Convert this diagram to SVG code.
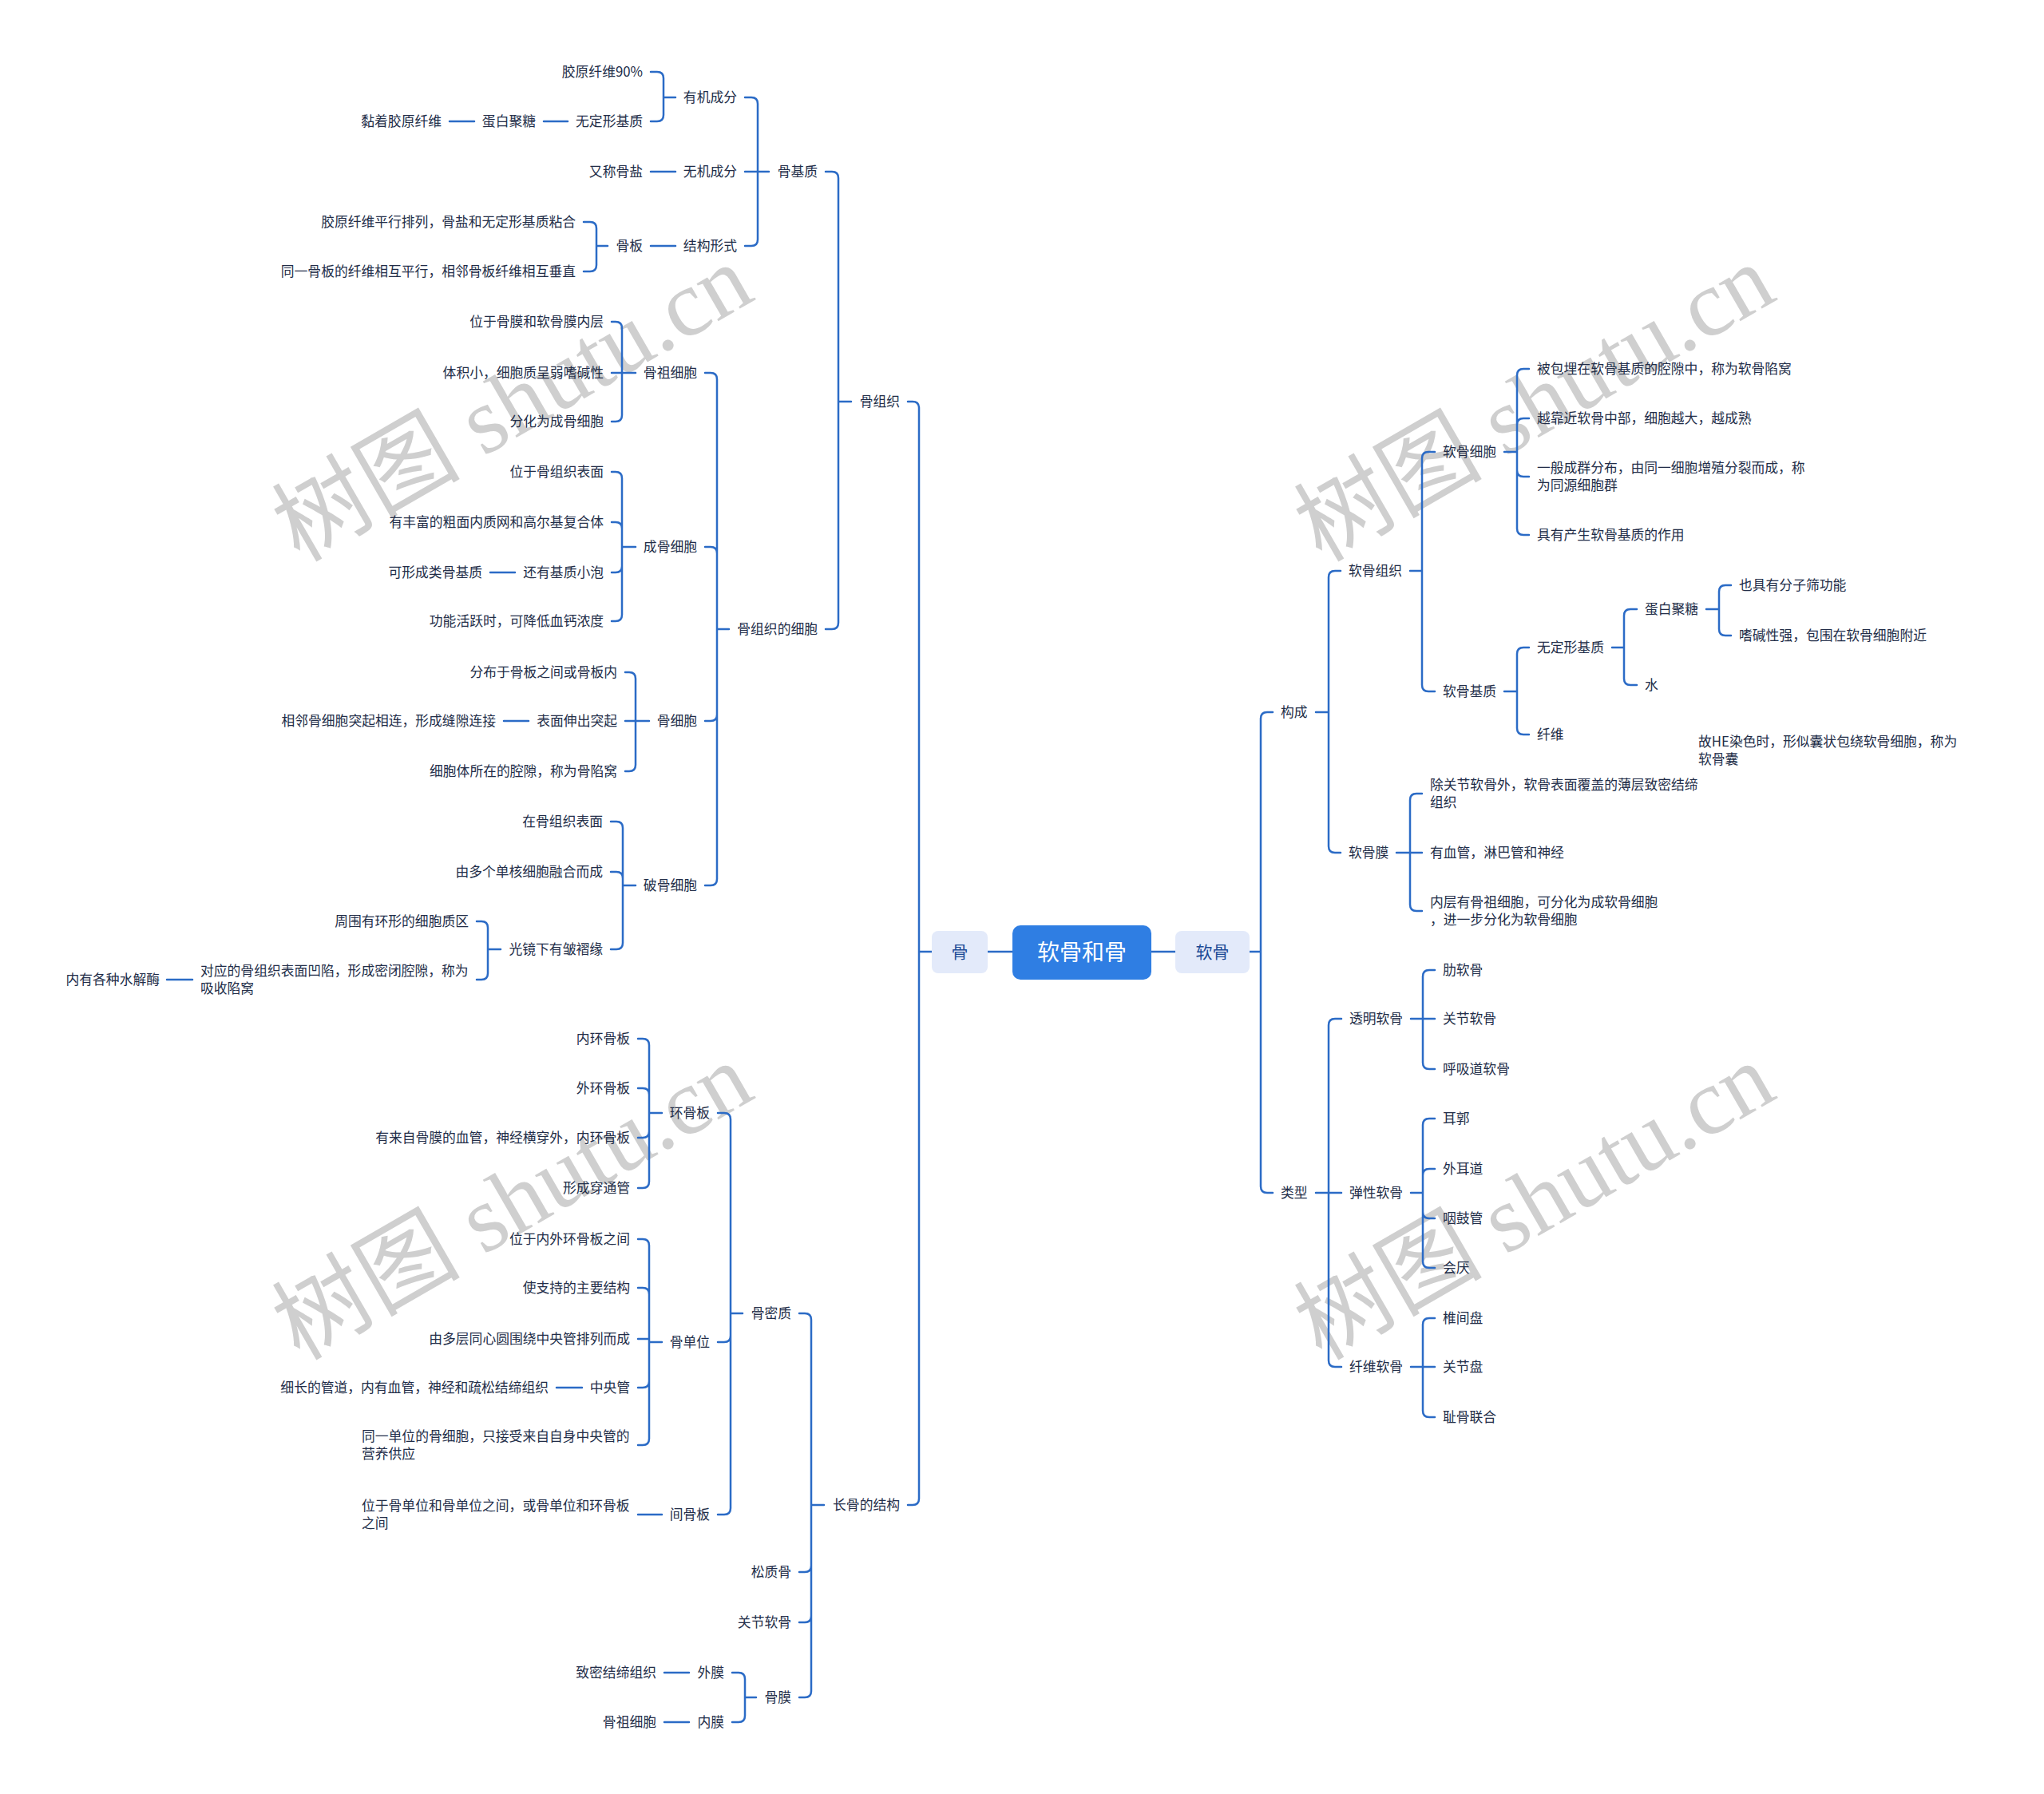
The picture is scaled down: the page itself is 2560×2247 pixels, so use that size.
<svg xmlns="http://www.w3.org/2000/svg" width="2560" height="2247" viewBox="0 0 2560 2247">
<style>
.t{font-family:"Noto Sans CJK SC","Noto Sans",sans-serif;font-size:16.8px;fill:#222d48}
.e{text-anchor:end}
.c{fill:none;stroke:#2b6bc6;stroke-width:2.5;stroke-linecap:round;stroke-linejoin:round}
.wm{font-family:"Liberation Serif","Noto Sans CJK SC",serif;font-size:118px;fill:#cfcfcf}
</style>
<rect width="2560" height="2247" fill="#ffffff"/>
<g id="watermarks">
<text class="wm" x="375" y="705" transform="rotate(-30 375 705)">树图 shutu.cn</text>
<text class="wm" x="1655" y="705" transform="rotate(-30 1655 705)">树图 shutu.cn</text>
<text class="wm" x="375" y="1705" transform="rotate(-30 375 1705)">树图 shutu.cn</text>
<text class="wm" x="1655" y="1705" transform="rotate(-30 1655 1705)">树图 shutu.cn</text>
</g>
<g id="connectors" class="c">
<path d="M1237 1192H1268M1442 1192H1472"/>
<path d="M1167 1192H1151M1151 1192V511Q1151 503 1143 503H1137M1151 1192V1877Q1151 1885 1143 1885H1137"/>
<path d="M1066 503H1050M1050 503V223Q1050 215 1042 215H1034M1050 503V780Q1050 788 1042 788H1034"/>
<path d="M963 215H949M949 215V130Q949 122 941 122H933M949 215H933M949 215V300Q949 308 941 308H933"/>
<path d="M846 122H831M831 122V98Q831 90 823 90H815M831 122V144Q831 152 823 152H815"/>
<path d="M711 152H681M594 152H563M846 215H815M846 308H815"/>
<path d="M761 308H747M747 308V286Q747 278 739 278H731M747 308V332Q747 340 739 340H731"/>
<path d="M913 788H898M898 788V475Q898 467 890 467H883M898 788V693Q898 685 890 685H883M898 788V895Q898 903 890 903H883M898 788V1101Q898 1109 890 1109H883"/>
<path d="M796 467H779M779 467V411Q779 403 771 403H766M779 467H766M779 467V520Q779 528 771 528H766"/>
<path d="M796 685H779M779 685V599Q779 591 771 591H766M779 685V662Q779 654 771 654H766M779 685V709Q779 717 771 717H766M779 685V770Q779 778 771 778H766M645 717H614"/>
<path d="M813 903H796M796 903V850Q796 842 788 842H783M796 903H783M796 903V958Q796 966 788 966H783M662 903H631"/>
<path d="M796 1109H780M780 1109V1037Q780 1029 772 1029H765M780 1109V1100Q780 1092 772 1092H765M780 1109V1181Q780 1189 772 1189H765"/>
<path d="M627 1189H611M611 1189V1162Q611 1154 603 1154H597M611 1189V1219Q611 1227 603 1227H597M241 1227H209"/>
<path d="M1032 1885H1016M1016 1885V1653Q1016 1645 1008 1645H1001M1016 1885V1961Q1016 1969 1008 1969H1001M1016 1885V2024Q1016 2032 1008 2032H1001M1016 1885V2118Q1016 2126 1008 2126H1001"/>
<path d="M930 1645H915M915 1645V1402Q915 1394 907 1394H899M915 1645V1673Q915 1681 907 1681H899M915 1645V1889Q915 1897 907 1897H899"/>
<path d="M829 1394H813M813 1394V1309Q813 1301 805 1301H799M813 1394V1371Q813 1363 805 1363H799M813 1394V1417Q813 1425 805 1425H799M813 1394V1480Q813 1488 805 1488H799"/>
<path d="M829 1681H813M813 1681V1560Q813 1552 805 1552H799M813 1681V1621Q813 1613 805 1613H799M813 1677H799M813 1681V1730Q813 1738 805 1738H799M813 1681V1802Q813 1810 805 1810H799M729 1738H697M829 1897H799"/>
<path d="M947 2126H933M933 2126V2103Q933 2095 925 2095H917M933 2126V2149Q933 2157 925 2157H917M863 2095H832M863 2157H832"/>
<path d="M1565 1192H1579M1579 1192V900Q1579 892 1587 892H1594M1579 1192V1486Q1579 1494 1587 1494H1594"/>
<path d="M1648 892H1664M1664 892V723Q1664 715 1672 715H1679M1664 892V1060Q1664 1068 1672 1068H1679"/>
<path d="M1766 715H1781M1781 715V574Q1781 566 1789 566H1797M1781 715V858Q1781 866 1789 866H1797"/>
<path d="M1884 566H1900M1900 566V470Q1900 462 1908 462H1915M1900 566V532Q1900 524 1908 524H1915M1900 566V589Q1900 597 1908 597H1915M1900 566V662Q1900 670 1908 670H1915"/>
<path d="M1884 866H1900M1900 866V819Q1900 811 1908 811H1915M1900 866V912Q1900 920 1908 920H1915"/>
<path d="M2019 811H2034M2034 811V771Q2034 763 2042 763H2050M2034 811V850Q2034 858 2042 858H2050"/>
<path d="M2137 763H2153M2153 763V741Q2153 733 2161 733H2168M2153 763V788Q2153 796 2161 796H2168"/>
<path d="M1749 1068H1766M1766 1068V1002Q1766 994 1774 994H1781M1766 1068H1781M1766 1068V1133Q1766 1141 1774 1141H1781"/>
<path d="M1648 1494H1664M1664 1494V1284Q1664 1276 1672 1276H1680M1664 1494H1680M1664 1494V1704Q1664 1712 1672 1712H1680"/>
<path d="M1767 1276H1782M1782 1276V1223Q1782 1215 1790 1215H1797M1782 1276H1797M1782 1276V1331Q1782 1339 1790 1339H1797"/>
<path d="M1767 1494H1782M1782 1494V1409Q1782 1401 1790 1401H1797M1782 1494V1472Q1782 1464 1790 1464H1797M1782 1494V1518Q1782 1526 1790 1526H1797M1782 1494V1580Q1782 1588 1790 1588H1797"/>
<path d="M1767 1712H1782M1782 1712V1659Q1782 1651 1790 1651H1797M1782 1712H1797M1782 1712V1767Q1782 1775 1790 1775H1797"/>
</g>
<g id="root">
<rect x="1268" y="1159" width="174" height="68" rx="10" fill="#2f7ee3"/>
<text x="1355" y="1203" text-anchor="middle" font-family="Noto Sans CJK SC, sans-serif" font-size="28" fill="#ffffff">软骨和骨</text>
</g>
<g id="n-gu">
<rect x="1167" y="1166" width="70" height="53" rx="8" fill="#e3eafa"/>
<text x="1202" y="1200" text-anchor="middle" font-family="Noto Sans CJK SC, sans-serif" font-size="21" fill="#1c4a96">骨</text>
</g>
<g id="n-ruangu">
<rect x="1472" y="1166" width="93" height="53" rx="8" fill="#e3eafa"/>
<text x="1518.5" y="1200" text-anchor="middle" font-family="Noto Sans CJK SC, sans-serif" font-size="21" fill="#1c4a96">软骨</text>
</g>
<g id="left-nodes" class="t">
<g id="l1"><text class="t e" x="1127" y="509">骨组织</text></g>
<g id="l2"><text class="t e" x="1127" y="1891">长骨的结构</text></g>
<g id="l3"><text class="t e" x="1024" y="221">骨基质</text></g>
<g id="l4"><text class="t e" x="1024" y="794">骨组织的细胞</text></g>
<g id="l5"><text class="t e" x="923" y="128">有机成分</text></g>
<g id="l6"><text class="t e" x="923" y="221">无机成分</text></g>
<g id="l7"><text class="t e" x="923" y="314">结构形式</text></g>
<g id="l8"><text class="t e" x="805" y="96">胶原纤维90%</text></g>
<g id="l9"><text class="t e" x="805" y="158">无定形基质</text></g>
<g id="l10"><text class="t e" x="671" y="158">蛋白聚糖</text></g>
<g id="l11"><text class="t e" x="553" y="158">黏着胶原纤维</text></g>
<g id="l12"><text class="t e" x="805" y="221">又称骨盐</text></g>
<g id="l13"><text class="t e" x="805" y="314">骨板</text></g>
<g id="l14"><text class="t e" x="721" y="284">胶原纤维平行排列，骨盐和无定形基质粘合</text></g>
<g id="l15"><text class="t e" x="721" y="346">同一骨板的纤维相互平行，相邻骨板纤维相互垂直</text></g>
<g id="l16"><text class="t e" x="873" y="473">骨祖细胞</text></g>
<g id="l17"><text class="t e" x="873" y="691">成骨细胞</text></g>
<g id="l18"><text class="t e" x="873" y="909">骨细胞</text></g>
<g id="l19"><text class="t e" x="873" y="1115">破骨细胞</text></g>
<g id="l20"><text class="t e" x="756" y="409">位于骨膜和软骨膜内层</text></g>
<g id="l21"><text class="t e" x="756" y="473">体积小，细胞质呈弱嗜碱性</text></g>
<g id="l22"><text class="t e" x="756" y="534">分化为成骨细胞</text></g>
<g id="l23"><text class="t e" x="756" y="597">位于骨组织表面</text></g>
<g id="l24"><text class="t e" x="756" y="660">有丰富的粗面内质网和高尔基复合体</text></g>
<g id="l25"><text class="t e" x="756" y="723">还有基质小泡</text></g>
<g id="l26"><text class="t e" x="604" y="723">可形成类骨基质</text></g>
<g id="l27"><text class="t e" x="756" y="784">功能活跃时，可降低血钙浓度</text></g>
<g id="l28"><text class="t e" x="773" y="848">分布于骨板之间或骨板内</text></g>
<g id="l29"><text class="t e" x="773" y="909">表面伸出突起</text></g>
<g id="l30"><text class="t e" x="621" y="909">相邻骨细胞突起相连，形成缝隙连接</text></g>
<g id="l31"><text class="t e" x="773" y="972">细胞体所在的腔隙，称为骨陷窝</text></g>
<g id="l32"><text class="t e" x="755" y="1035">在骨组织表面</text></g>
<g id="l33"><text class="t e" x="755" y="1098">由多个单核细胞融合而成</text></g>
<g id="l34"><text class="t e" x="755" y="1195">光镜下有皱褶缘</text></g>
<g id="l35"><text class="t e" x="587" y="1160">周围有环形的细胞质区</text></g>
<g id="l36"><text class="t" x="251" y="1222">对应的骨组织表面凹陷，形成密闭腔隙，称为</text><text class="t" x="251" y="1244">吸收陷窝</text></g>
<g id="l37"><text class="t e" x="200" y="1233">内有各种水解酶</text></g>
<g id="l38"><text class="t e" x="991" y="1651">骨密质</text></g>
<g id="l39"><text class="t e" x="991" y="1975">松质骨</text></g>
<g id="l40"><text class="t e" x="991" y="2038">关节软骨</text></g>
<g id="l41"><text class="t e" x="991" y="2132">骨膜</text></g>
<g id="l42"><text class="t e" x="889" y="1400">环骨板</text></g>
<g id="l43"><text class="t e" x="889" y="1687">骨单位</text></g>
<g id="l44"><text class="t e" x="889" y="1903">间骨板</text></g>
<g id="l45"><text class="t e" x="789" y="1307">内环骨板</text></g>
<g id="l46"><text class="t e" x="789" y="1369">外环骨板</text></g>
<g id="l47"><text class="t e" x="789" y="1431">有来自骨膜的血管，神经横穿外，内环骨板</text></g>
<g id="l48"><text class="t e" x="789" y="1494">形成穿通管</text></g>
<g id="l49"><text class="t e" x="789" y="1558">位于内外环骨板之间</text></g>
<g id="l50"><text class="t e" x="789" y="1619">使支持的主要结构</text></g>
<g id="l51"><text class="t e" x="789" y="1683">由多层同心圆围绕中央管排列而成</text></g>
<g id="l52"><text class="t e" x="789" y="1744">中央管</text></g>
<g id="l53"><text class="t e" x="687" y="1744">细长的管道，内有血管，神经和疏松结缔组织</text></g>
<g id="l54"><text class="t" x="453" y="1805">同一单位的骨细胞，只接受来自自身中央管的</text><text class="t" x="453" y="1827">营养供应</text></g>
<g id="l55"><text class="t" x="453" y="1892">位于骨单位和骨单位之间，或骨单位和环骨板</text><text class="t" x="453" y="1914">之间</text></g>
<g id="l56"><text class="t e" x="907" y="2101">外膜</text></g>
<g id="l57"><text class="t e" x="907" y="2163">内膜</text></g>
<g id="l58"><text class="t e" x="822" y="2101">致密结缔组织</text></g>
<g id="l59"><text class="t e" x="822" y="2163">骨祖细胞</text></g>
</g>
<g id="right-nodes" class="t">
<g id="r1"><text class="t" x="1604" y="898">构成</text></g>
<g id="r2"><text class="t" x="1604" y="1500">类型</text></g>
<g id="r3"><text class="t" x="1689" y="721">软骨组织</text></g>
<g id="r4"><text class="t" x="1689" y="1074">软骨膜</text></g>
<g id="r5"><text class="t" x="1807" y="572">软骨细胞</text></g>
<g id="r6"><text class="t" x="1807" y="872">软骨基质</text></g>
<g id="r7"><text class="t" x="1925" y="468">被包埋在软骨基质的腔隙中，称为软骨陷窝</text></g>
<g id="r8"><text class="t" x="1925" y="530">越靠近软骨中部，细胞越大，越成熟</text></g>
<g id="r9"><text class="t" x="1925" y="592">一般成群分布，由同一细胞增殖分裂而成，称</text><text class="t" x="1925" y="614">为同源细胞群</text></g>
<g id="r10"><text class="t" x="1925" y="676">具有产生软骨基质的作用</text></g>
<g id="r11"><text class="t" x="1925" y="817">无定形基质</text></g>
<g id="r12"><text class="t" x="1925" y="926">纤维</text></g>
<g id="r13"><text class="t" x="2060" y="769">蛋白聚糖</text></g>
<g id="r14"><text class="t" x="2060" y="864">水</text></g>
<g id="r15"><text class="t" x="2178" y="739">也具有分子筛功能</text></g>
<g id="r16"><text class="t" x="2178" y="802">嗜碱性强，包围在软骨细胞附近</text></g>
<g id="r17"><text class="t" x="2127" y="935">故HE染色时，形似囊状包绕软骨细胞，称为</text><text class="t" x="2127" y="957">软骨囊</text></g>
<g id="r18"><text class="t" x="1791" y="989">除关节软骨外，软骨表面覆盖的薄层致密结缔</text><text class="t" x="1791" y="1011">组织</text></g>
<g id="r19"><text class="t" x="1791" y="1074">有血管，淋巴管和神经</text></g>
<g id="r20"><text class="t" x="1791" y="1136">内层有骨祖细胞，可分化为成软骨细胞</text><text class="t" x="1791" y="1158">，进一步分化为软骨细胞</text></g>
<g id="r21"><text class="t" x="1690" y="1282">透明软骨</text></g>
<g id="r22"><text class="t" x="1690" y="1500">弹性软骨</text></g>
<g id="r23"><text class="t" x="1690" y="1718">纤维软骨</text></g>
<g id="r24"><text class="t" x="1807" y="1221">肋软骨</text></g>
<g id="r25"><text class="t" x="1807" y="1282">关节软骨</text></g>
<g id="r26"><text class="t" x="1807" y="1345">呼吸道软骨</text></g>
<g id="r27"><text class="t" x="1807" y="1407">耳郭</text></g>
<g id="r28"><text class="t" x="1807" y="1470">外耳道</text></g>
<g id="r29"><text class="t" x="1807" y="1532">咽鼓管</text></g>
<g id="r30"><text class="t" x="1807" y="1594">会厌</text></g>
<g id="r31"><text class="t" x="1807" y="1657">椎间盘</text></g>
<g id="r32"><text class="t" x="1807" y="1718">关节盘</text></g>
<g id="r33"><text class="t" x="1807" y="1781">耻骨联合</text></g>
</g>
</svg>
